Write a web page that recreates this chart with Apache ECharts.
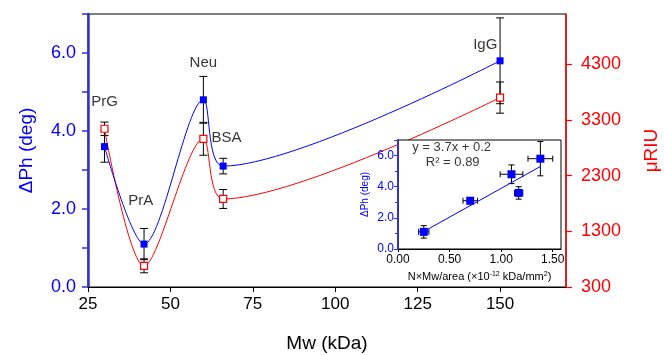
<!DOCTYPE html>
<html>
<head>
<meta charset="utf-8">
<script src="https://cdn.jsdelivr.net/npm/echarts@6/dist/echarts.min.js"></script>
<style>
  html,body{margin:0;padding:0;background:#fff;}
  #main{width:664px;height:355px;}
</style>
</head>
<body>
<div id="main"></div>
<script>
// protein data (order: PrG, PrA, Neu, BSA, IgG)
var proteins = ['PrG', 'PrA', 'Neu', 'BSA', 'IgG'];
var mw = [30, 42, 60, 66, 150];
var dPh = [3.6, 1.1, 4.8, 3.1, 5.8];
var dPhErr = [0.4, 0.4, 0.6, 0.2, 1.1];
var uRIU = [3140, 680, 2960, 1880, 3700];
var uRIUErr = [120, 125, 295, 170, 280];
// where the names sit (main axes units)
var labelMw = [30, 41, 60, 67, 145.5];
var labelPh = [4.75, 2.22, 5.74, 3.83, 6.2];
// inset: N x Mw / area
var density = [1.17, 0.25, 1.10, 0.70, 1.38];
var densityErr = [0.04, 0.05, 0.11, 0.07, 0.12];
var fitX = [0.26, 1.38];
var fitY = [1.16, 5.3];

var FONT = 'Liberation Sans, Arial, sans-serif';
var BLUE = '#0000ff';
var RED = '#ff0000';

function zip(a, b, c, d) {
  return a.map(function (v, i) {
    var r = [v, b[i]];
    if (c) r.push(c[i]);
    if (d) r.push(d[i]);
    return r;
  });
}

function capLines(p1, p2, w, horiz) {
  var out = [{type: 'line', shape: {x1: p1[0], y1: p1[1], x2: p2[0], y2: p2[1]}, style: {stroke: '#000', lineWidth: 1}}];
  [p1, p2].forEach(function (p) {
    var s = horiz ? {x1: p[0], y1: p[1] - w, x2: p[0], y2: p[1] + w} : {x1: p[0] - w, y1: p[1], x2: p[0] + w, y2: p[1]};
    out.push({type: 'line', shape: s, style: {stroke: '#000', lineWidth: 1}});
  });
  return out;
}

function vErr(params, api) {
  var x = api.value(0), y = api.value(1), e = api.value(2);
  return {type: 'group', children: capLines(api.coord([x, y + e]), api.coord([x, y - e]), 4, false)};
}

function xyErr(params, api) {
  var x = api.value(0), y = api.value(1), ex = api.value(2), ey = api.value(3);
  var c = capLines(api.coord([x, y + ey]), api.coord([x, y - ey]), 3, false);
  c = c.concat(capLines(api.coord([x - ex, y]), api.coord([x + ex, y]), 3, true));
  return {type: 'group', children: c};
}

var chart = echarts.init(document.getElementById('main'), null, {renderer: 'canvas'});

var option = {
  animation: false,
  textStyle: {fontFamily: FONT},
  grid: [
    {left: 88, right: 98, top: 14, bottom: 68, outerBoundsMode: 'none', containLabel: false,
      show: true, borderColor: '#000', borderWidth: 1},
    {left: 398, top: 140, width: 163, height: 109, outerBoundsMode: 'none', containLabel: false,
      show: true, borderColor: '#000', borderWidth: 1, backgroundColor: '#fff', z: 5}
  ],
  xAxis: [
    {
      type: 'value', gridIndex: 0, min: 25, max: 170, interval: 25,
      name: 'Mw (kDa)', nameLocation: 'middle', nameGap: 47,
      nameTextStyle: {fontSize: 19, color: '#000', fontFamily: FONT},
      axisLine: {lineStyle: {color: '#000', width: 1}},
      axisTick: {inside: false, length: 5, lineStyle: {color: '#000'}},
      axisLabel: {fontSize: 17, color: '#000', margin: 9, fontFamily: FONT, showMaxLabel: false},
      splitLine: {show: false}
    },
    {
      type: 'value', gridIndex: 1, min: 0, max: 1.58, interval: 0.5,
      name: 'N\u00d7Mw/area (\u00d710{sup|-12} kDa/mm{sup|2})', nameLocation: 'middle', nameGap: 22,
      nameTextStyle: {fontSize: 11, color: '#000', fontFamily: FONT,
        rich: {sup: {fontSize: 7, verticalAlign: 'top', padding: [0, 0, 5, 0], fontFamily: FONT}}},
      axisLine: {lineStyle: {color: '#000', width: 1}},
      axisTick: {inside: false, length: 3, lineStyle: {color: '#000'}},
      axisLabel: {fontSize: 12, color: '#000', margin: 5, fontFamily: FONT, showMaxLabel: false,
        formatter: function (v) { return v.toFixed(2); }},
      splitLine: {show: false}, z: 6
    }
  ],
  yAxis: [
    {
      type: 'value', gridIndex: 0, min: 0, max: 7, interval: 2,
      name: '\u0394Ph (deg)', nameLocation: 'middle', nameGap: 52, nameRotate: 90,
      nameTextStyle: {fontSize: 19, color: BLUE, fontFamily: FONT},
      axisLine: {show: true, lineStyle: {color: '#3333cc', width: 2.5}},
      axisTick: {inside: false, length: 6, lineStyle: {color: '#3333cc', width: 1.5}},
      minorTick: {show: true, splitNumber: 2, length: 6, lineStyle: {color: '#3333cc', width: 1.5}},
      axisLabel: {fontSize: 18, color: BLUE, margin: 12, fontFamily: FONT, showMaxLabel: false,
        formatter: function (v) { return v.toFixed(1); }},
      splitLine: {show: false}
    },
    {
      type: 'value', gridIndex: 0, position: 'right', min: 300, max: 5200, interval: 1000,
      name: '\u03bcRIU', nameLocation: 'middle', nameGap: 76, nameRotate: 90,
      nameTextStyle: {fontSize: 19, color: RED, fontFamily: FONT},
      axisLine: {show: true, lineStyle: {color: RED, width: 1.5}},
      axisTick: {inside: false, length: 6, lineStyle: {color: RED, width: 1.2}},
      axisLabel: {fontSize: 18, color: RED, margin: 15, fontFamily: FONT, showMaxLabel: false,
        formatter: function (v) { return String(v); }},
      splitLine: {show: false}
    },
    {
      type: 'value', gridIndex: 1, min: 0, max: 7, interval: 2,
      name: '\u0394Ph (deg)', nameLocation: 'middle', nameGap: 28, nameRotate: 90,
      nameTextStyle: {fontSize: 10, color: BLUE, fontFamily: FONT},
      axisLine: {show: true, lineStyle: {color: '#3333cc', width: 2}},
      axisTick: {inside: false, length: 4, lineStyle: {color: '#3333cc'}},
      minorTick: {show: true, splitNumber: 2, length: 3, lineStyle: {color: '#3333cc'}},
      axisLabel: {fontSize: 12, color: BLUE, margin: 4, fontFamily: FONT, showMaxLabel: false,
        formatter: function (v) { return v.toFixed(1); }},
      splitLine: {show: false}, z: 6
    }
  ],
  series: [
    {type: 'custom', xAxisIndex: 0, yAxisIndex: 0, renderItem: vErr, data: zip(mw, dPh, dPhErr), z: 2},
    {type: 'custom', xAxisIndex: 0, yAxisIndex: 1, renderItem: vErr, data: zip(mw, uRIU, uRIUErr), z: 2},
    {
      type: 'line', xAxisIndex: 0, yAxisIndex: 1, data: zip(mw, uRIU), smooth: 0.3,
      symbol: 'rect', symbolSize: 7, lineStyle: {color: RED, width: 1},
      itemStyle: {color: '#fff', borderColor: RED, borderWidth: 1.2}, z: 3
    },
    {
      type: 'line', xAxisIndex: 0, yAxisIndex: 0, data: zip(mw, dPh), smooth: 0.3,
      symbol: 'rect', symbolSize: 7, lineStyle: {color: BLUE, width: 1},
      itemStyle: {color: BLUE}, z: 4
    },
    {
      type: 'scatter', xAxisIndex: 0, yAxisIndex: 0, symbolSize: 0, silent: true,
      data: labelMw.map(function (x, i) { return {value: [x, labelPh[i]], name: proteins[i]}; }),
      label: {show: true, position: 'inside', formatter: '{b}', fontSize: 15, color: '#000', fontFamily: FONT}
    },
    // inset
    {type: 'custom', xAxisIndex: 1, yAxisIndex: 2, renderItem: xyErr, data: zip(density, dPh, densityErr, dPhErr), z: 10},
    {
      type: 'line', xAxisIndex: 1, yAxisIndex: 2, data: zip(fitX, fitY), symbol: 'none',
      lineStyle: {color: BLUE, width: 1}, z: 10
    },
    {
      type: 'scatter', xAxisIndex: 1, yAxisIndex: 2, data: zip(density, dPh), symbol: 'rect', symbolSize: 8,
      itemStyle: {color: BLUE, opacity: 1}, z: 11
    },
    {
      type: 'scatter', xAxisIndex: 1, yAxisIndex: 2, symbolSize: 0, silent: true, z: 11,
      data: [{value: [0.52, 6.53], name: 'y = 3.7x + 0.2'}, {value: [0.53, 5.57], name: 'R\u00b2 = 0.89'}],
      label: {show: true, position: 'inside', formatter: '{b}', fontSize: 13, color: '#000', fontFamily: FONT}
    }
  ]
};
chart.setOption(option);
</script>
</body>
</html>
